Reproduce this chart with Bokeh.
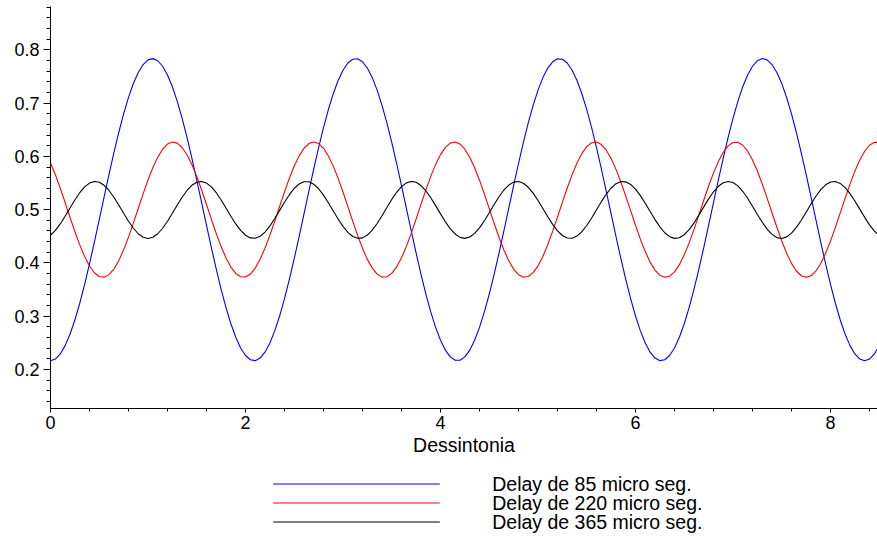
from bokeh.plotting import figure
from bokeh.layouts import column
from bokeh.models import Range1d, SingleIntervalTicker
from bokeh.core.properties import value
from bokeh.embed import file_html
from bokeh.resources import INLINE

# Detuning values (x axis)
dessintonia = [0.00, 0.05, 0.10, 0.15, 0.20, 0.25, 0.30, 0.35, 0.40, 0.45,
               0.50, 0.55, 0.60, 0.65, 0.70, 0.75, 0.80, 0.85, 0.90, 0.95,
               1.00, 1.05, 1.10, 1.15, 1.20, 1.25, 1.30, 1.35, 1.40, 1.45,
               1.50, 1.55, 1.60, 1.65, 1.70, 1.75, 1.80, 1.85, 1.90, 1.95,
               2.00, 2.05, 2.10, 2.15, 2.20, 2.25, 2.30, 2.35, 2.40, 2.45,
               2.50, 2.55, 2.60, 2.65, 2.70, 2.75, 2.80, 2.85, 2.90, 2.95,
               3.00, 3.05, 3.10, 3.15, 3.20, 3.25, 3.30, 3.35, 3.40, 3.45,
               3.50, 3.55, 3.60, 3.65, 3.70, 3.75, 3.80, 3.85, 3.90, 3.95,
               4.00, 4.05, 4.10, 4.15, 4.20, 4.25, 4.30, 4.35, 4.40, 4.45,
               4.50, 4.55, 4.60, 4.65, 4.70, 4.75, 4.80, 4.85, 4.90, 4.95,
               5.00, 5.05, 5.10, 5.15, 5.20, 5.25, 5.30, 5.35, 5.40, 5.45,
               5.50, 5.55, 5.60, 5.65, 5.70, 5.75, 5.80, 5.85, 5.90, 5.95,
               6.00, 6.05, 6.10, 6.15, 6.20, 6.25, 6.30, 6.35, 6.40, 6.45,
               6.50, 6.55, 6.60, 6.65, 6.70, 6.75, 6.80, 6.85, 6.90, 6.95,
               7.00, 7.05, 7.10, 7.15, 7.20, 7.25, 7.30, 7.35, 7.40, 7.45,
               7.50, 7.55, 7.60, 7.65, 7.70, 7.75, 7.80, 7.85, 7.90, 7.95,
               8.00, 8.05, 8.10, 8.15, 8.20, 8.25, 8.30, 8.35, 8.40, 8.45,
               8.50]

# Delay de 85 micro seg.
delay_85 = [0.2165, 0.2197, 0.2292, 0.2449, 0.2663, 0.2930, 0.3244, 0.3598, 0.3983, 0.4392,
            0.4814, 0.5240, 0.5661, 0.6067, 0.6448, 0.6797, 0.7106, 0.7367, 0.7574, 0.7723,
            0.7810, 0.7834, 0.7794, 0.7691, 0.7527, 0.7306, 0.7033, 0.6713, 0.6355, 0.5966,
            0.5556, 0.5133, 0.4707, 0.4287, 0.3884, 0.3506, 0.3162, 0.2859, 0.2605, 0.2405,
            0.2263, 0.2183, 0.2167, 0.2215, 0.2326, 0.2497, 0.2725, 0.3004, 0.3329, 0.3692,
            0.4084, 0.4496, 0.4920, 0.5346, 0.5764, 0.6165, 0.6539, 0.6879, 0.7176, 0.7424,
            0.7617, 0.7751, 0.7823, 0.7831, 0.7775, 0.7656, 0.7477, 0.7242, 0.6957, 0.6627,
            0.6261, 0.5866, 0.5451, 0.5026, 0.4601, 0.4185, 0.3787, 0.3417, 0.3082, 0.2791,
            0.2549, 0.2363, 0.2237, 0.2173, 0.2173, 0.2237, 0.2363, 0.2549, 0.2791, 0.3082,
            0.3417, 0.3787, 0.4185, 0.4602, 0.5027, 0.5452, 0.5866, 0.6261, 0.6628, 0.6958,
            0.7243, 0.7478, 0.7656, 0.7774, 0.7830, 0.7822, 0.7751, 0.7617, 0.7423, 0.7175,
            0.6878, 0.6538, 0.6164, 0.5763, 0.5345, 0.4920, 0.4496, 0.4083, 0.3691, 0.3329,
            0.3005, 0.2725, 0.2497, 0.2326, 0.2215, 0.2167, 0.2183, 0.2263, 0.2405, 0.2605,
            0.2859, 0.3162, 0.3507, 0.3885, 0.4288, 0.4708, 0.5134, 0.5557, 0.5967, 0.6356,
            0.6714, 0.7033, 0.7306, 0.7527, 0.7691, 0.7795, 0.7835, 0.7811, 0.7723, 0.7574,
            0.7366, 0.7105, 0.6797, 0.6448, 0.6066, 0.5660, 0.5239, 0.4813, 0.4391, 0.3983,
            0.3598, 0.3244, 0.2930, 0.2663, 0.2449, 0.2292, 0.2197, 0.2165, 0.2197, 0.2292,
            0.2449]

# Delay de 220 micro seg.
delay_220 = [0.5874, 0.5654, 0.5403, 0.5134, 0.4858, 0.4589, 0.4339, 0.4120, 0.3943, 0.3816,
             0.3745, 0.3733, 0.3781, 0.3886, 0.4043, 0.4246, 0.4485, 0.4748, 0.5022, 0.5296,
             0.5556, 0.5790, 0.5986, 0.6135, 0.6231, 0.6270, 0.6248, 0.6167, 0.6031, 0.5847,
             0.5622, 0.5368, 0.5097, 0.4821, 0.4553, 0.4307, 0.4094, 0.3923, 0.3803, 0.3740,
             0.3736, 0.3792, 0.3904, 0.4069, 0.4278, 0.4520, 0.4785, 0.5060, 0.5333, 0.5590,
             0.5819, 0.6009, 0.6152, 0.6240, 0.6270, 0.6240, 0.6151, 0.6008, 0.5817, 0.5588,
             0.5331, 0.5058, 0.4783, 0.4518, 0.4275, 0.4067, 0.3903, 0.3790, 0.3735, 0.3740,
             0.3804, 0.3925, 0.4096, 0.4310, 0.4556, 0.4824, 0.5100, 0.5371, 0.5624, 0.5849,
             0.6033, 0.6168, 0.6248, 0.6270, 0.6231, 0.6134, 0.5984, 0.5787, 0.5553, 0.5293,
             0.5019, 0.4744, 0.4482, 0.4244, 0.4041, 0.3884, 0.3779, 0.3732, 0.3745, 0.3818,
             0.3946, 0.4123, 0.4342, 0.4592, 0.4862, 0.5138, 0.5407, 0.5658, 0.5877, 0.6055,
             0.6183, 0.6255, 0.6268, 0.6221, 0.6116, 0.5959, 0.5756, 0.5518, 0.5255, 0.4981,
             0.4707, 0.4447, 0.4213, 0.4016, 0.3866, 0.3769, 0.3731, 0.3752, 0.3832, 0.3968,
             0.4152, 0.4376, 0.4630, 0.4901, 0.5176, 0.5443, 0.5690, 0.5904, 0.6076, 0.6196,
             0.6260, 0.6264, 0.6209, 0.6097, 0.5933, 0.5725, 0.5482, 0.5217, 0.4942, 0.4669,
             0.4412, 0.4183, 0.3992, 0.3849, 0.3760, 0.3730, 0.3760, 0.3848, 0.3991, 0.4181,
             0.4410, 0.4667, 0.4939, 0.5215, 0.5480, 0.5723, 0.5931, 0.6096, 0.6209, 0.6264,
             0.6260]

# Delay de 365 micro seg.
delay_365 = [0.4520, 0.4610, 0.4732, 0.4877, 0.5031, 0.5182, 0.5318, 0.5427, 0.5499, 0.5529,
             0.5515, 0.5457, 0.5360, 0.5233, 0.5086, 0.4931, 0.4782, 0.4651, 0.4548, 0.4483,
             0.4460, 0.4483, 0.4548, 0.4651, 0.4782, 0.4931, 0.5086, 0.5233, 0.5360, 0.5457,
             0.5515, 0.5529, 0.5499, 0.5427, 0.5318, 0.5182, 0.5031, 0.4877, 0.4732, 0.4610,
             0.4520, 0.4470, 0.4463, 0.4501, 0.4580, 0.4694, 0.4834, 0.4987, 0.5140, 0.5281,
             0.5399, 0.5482, 0.5525, 0.5524, 0.5478, 0.5392, 0.5272, 0.5130, 0.4976, 0.4824,
             0.4686, 0.4574, 0.4497, 0.4462, 0.4471, 0.4524, 0.4617, 0.4741, 0.4887, 0.5041,
             0.5192, 0.5326, 0.5433, 0.5503, 0.5530, 0.5513, 0.5452, 0.5353, 0.5224, 0.5076,
             0.4921, 0.4772, 0.4642, 0.4542, 0.4480, 0.4461, 0.4486, 0.4554, 0.4659, 0.4792,
             0.4942, 0.5097, 0.5243, 0.5368, 0.5462, 0.5517, 0.5529, 0.5495, 0.5420, 0.5310,
             0.5173, 0.5021, 0.4867, 0.4724, 0.4603, 0.4515, 0.4468, 0.4464, 0.4505, 0.4587,
             0.4703, 0.4844, 0.4997, 0.5150, 0.5290, 0.5406, 0.5487, 0.5527, 0.5522, 0.5474,
             0.5385, 0.5264, 0.5120, 0.4966, 0.4814, 0.4677, 0.4567, 0.4493, 0.4461, 0.4474,
             0.4530, 0.4625, 0.4751, 0.4897, 0.5052, 0.5202, 0.5335, 0.5439, 0.5506, 0.5530,
             0.5509, 0.5446, 0.5345, 0.5214, 0.5065, 0.4910, 0.4763, 0.4634, 0.4536, 0.4476,
             0.4460, 0.4489, 0.4560, 0.4667, 0.4802, 0.4953, 0.5107, 0.5252, 0.5375, 0.5467,
             0.5519, 0.5528, 0.5492, 0.5414, 0.5301, 0.5163, 0.5010, 0.4856, 0.4714, 0.4596,
             0.4511]

series = [delay_85, delay_220, delay_365]
series_labels = ["Delay de 85 micro seg.", "Delay de 220 micro seg.", "Delay de 365 micro seg."]
series_colors = ["blue", "red", "black"]
x_label = "Dessintonia"

FONT = "Liberation Sans"

# ---- main plot ----
p = figure(width=877, height=470, output_backend="svg", toolbar_location=None,
           x_range=Range1d(0, 8.482), y_range=Range1d(0.1269, 0.8812),
           min_border_left=50, min_border_right=0, min_border_top=6,
           min_border_bottom=62)
p.outline_line_color = None
p.grid.visible = False
p.background_fill_color = "white"
p.border_fill_color = "white"

for ys, col in zip(series, series_colors):
    p.line(dessintonia, ys, line_color=col, line_width=1.1)

xa = p.xaxis[0]
xa.ticker = SingleIntervalTicker(interval=2, num_minor_ticks=5)
xa.axis_line_color = "black"
xa.major_tick_in = 0
xa.major_tick_out = 4
xa.minor_tick_in = 0
xa.minor_tick_out = 3
xa.major_label_standoff = 3
xa.major_label_text_font = FONT
xa.major_label_text_font_size = "18px"
xa.major_label_text_color = "black"
xa.axis_label = x_label
xa.axis_label_text_font = FONT
xa.axis_label_text_font_size = "19.5px"
xa.axis_label_text_font_style = "normal"
xa.axis_label_text_color = "black"
xa.axis_label_standoff = 2

ya = p.yaxis[0]
ya.ticker = SingleIntervalTicker(interval=0.1, num_minor_ticks=5)
ya.axis_line_color = "black"
ya.major_tick_in = 0
ya.major_tick_out = 7
ya.minor_tick_in = 0
ya.minor_tick_out = 4
ya.major_label_standoff = 4
ya.major_label_text_font = FONT
ya.major_label_text_font_size = "18px"
ya.major_label_text_color = "black"

# ---- legend strip below the plot (coordinates in page pixels) ----
leg = figure(width=877, height=68, output_backend="svg", toolbar_location=None,
             x_axis_type=None, y_axis_type=None,
             x_range=Range1d(50, 877), y_range=Range1d(538, 470),
             min_border_left=0, min_border_right=0, min_border_top=0,
             min_border_bottom=0)
leg.outline_line_color = None
leg.grid.visible = False
leg.background_fill_color = "white"
leg.border_fill_color = "white"

legend_row_y = [483.5, 502.5, 521.5]
legend_line_x = [272.7, 439.3]
legend_text_x = 491.7

for yrow, col, lab in zip(legend_row_y, series_colors, series_labels):
    leg.line(legend_line_x, [yrow, yrow], line_color=col, line_width=1.2)
    leg.text(x=[legend_text_x], y=[yrow], text=[lab],
             text_font=value(FONT), text_font_size="19.5px",
             text_baseline="middle", text_align="left", text_color="black")

open("out.html", "w").write(file_html(column(p, leg, spacing=0), INLINE))
